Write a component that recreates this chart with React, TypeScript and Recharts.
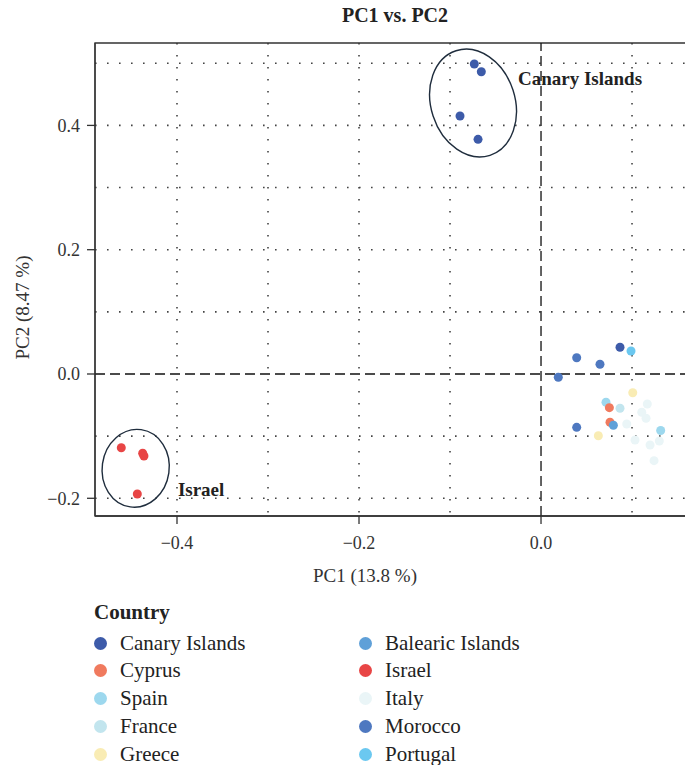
import React from 'react'
import {
  ScatterChart,
  Scatter,
  XAxis,
  YAxis,
  CartesianGrid,
  ReferenceLine,
  ReferenceArea,
  Label,
} from 'recharts'

// PCA scores (PC1, PC2)
const canaryIslands = [
  { pc1: -0.0733, pc2: 0.4988 },
  { pc1: -0.0656, pc2: 0.4864 },
  { pc1: -0.089, pc2: 0.4151 },
  { pc1: -0.0692, pc2: 0.3776 },
  { pc1: 0.0868, pc2: 0.043 },
]
const cyprus = [
  { pc1: 0.0751, pc2: -0.0542 },
  { pc1: 0.0758, pc2: -0.0777 },
]
const spain = [
  { pc1: 0.0714, pc2: -0.0455 },
  { pc1: 0.1315, pc2: -0.0909 },
]
const france = [{ pc1: 0.0868, pc2: -0.0552 }]
const greece = [
  { pc1: 0.1008, pc2: -0.0301 },
  { pc1: 0.063, pc2: -0.0993 },
]
const balearicIslands = [{ pc1: 0.0795, pc2: -0.0825 }]
const israel = [
  { pc1: -0.4612, pc2: -0.1186 },
  { pc1: -0.4377, pc2: -0.1276 },
  { pc1: -0.4363, pc2: -0.132 },
  { pc1: -0.4436, pc2: -0.1931 },
]
const italy = [
  { pc1: 0.1168, pc2: -0.0483 },
  { pc1: 0.1107, pc2: -0.0616 },
  { pc1: 0.1154, pc2: -0.0713 },
  { pc1: 0.0942, pc2: -0.0805 },
  { pc1: 0.1033, pc2: -0.1062 },
  { pc1: 0.13, pc2: -0.1078 },
  { pc1: 0.1198, pc2: -0.1142 },
  { pc1: 0.1242, pc2: -0.1395 },
]
const morocco = [
  { pc1: 0.019, pc2: -0.0053 },
  { pc1: 0.0392, pc2: 0.0262 },
  { pc1: 0.0648, pc2: 0.0156 },
  { pc1: 0.0392, pc2: -0.0858 },
]
const portugal = [{ pc1: 0.0989, pc2: 0.037 }]

const X_TICKS = [-0.4, -0.2, 0.0]
const Y_TICKS = [-0.2, 0.0, 0.2, 0.4]
const X_GRID = [-0.4, -0.3, -0.2, -0.1, 0.1]
const Y_GRID = [-0.2, -0.1, 0.1, 0.2, 0.3, 0.4, 0.5]
const X_DOMAIN = [-0.4901, 0.1692]
const Y_DOMAIN = [-0.2285, 0.5326]

// group annotations (ellipse centres and label anchors, in PC units)
const ellipseCenters = [
  { group: 'Canary Islands', pc1: -0.0747, pc2: 0.436 },
  { group: 'Israel', pc1: -0.4454, pc2: -0.1517 },
]
const groupLabels = [
  { text: 'Canary Islands', pc1: -0.0253, pc2: 0.476 },
  { text: 'Israel', pc1: -0.399, pc2: -0.1866 },
]

const ELLIPSE_SHAPE: Record<string, { rx: number; ry: number; rotate: number }> = {
  'Canary Islands': { rx: 42, ry: 55, rotate: -18 },
  Israel: { rx: 33.5, ry: 39, rotate: 8 },
}

const COLORS: Record<string, string> = {
  'Canary Islands': '#3d5ba9',
  Cyprus: '#f07a5e',
  Spain: '#9dd8ee',
  France: '#c2e5ee',
  Greece: '#f9ecb4',
  'Balearic Islands': '#5fa0d8',
  Israel: '#e84545',
  Italy: '#eaf5f7',
  Morocco: '#4e78c0',
  Portugal: '#6bc8f0',
}

const LEGEND_ORDER = [
  'Canary Islands',
  'Cyprus',
  'Spain',
  'France',
  'Greece',
  'Balearic Islands',
  'Israel',
  'Italy',
  'Morocco',
  'Portugal',
]

// drawing order, bottom to top
const SERIES: { name: string; data: { pc1: number; pc2: number }[] }[] = [
  { name: 'Italy', data: italy },
  { name: 'France', data: france },
  { name: 'Spain', data: spain },
  { name: 'Greece', data: greece },
  { name: 'Cyprus', data: cyprus },
  { name: 'Balearic Islands', data: balearicIslands },
  { name: 'Morocco', data: morocco },
  { name: 'Portugal', data: portugal },
  { name: 'Canary Islands', data: canaryIslands },
  { name: 'Israel', data: israel },
]

const FONT = '"Liberation Serif", "Times New Roman", serif'
const INK = '#222'

const fmt = (v: number) => (v < 0 ? '\u2212' : '') + Math.abs(v).toFixed(1)

export default function App() {
  return (
    <div
      style={{
        position: 'absolute',
        left: 0,
        top: 0,
        width: 685,
        height: 765,
        overflow: 'hidden',
        background: '#fff',
        fontFamily: FONT,
        color: INK,
      }}
    >
      <div
        style={{
          position: 'absolute',
          left: 0,
          top: 4,
          width: 790,
          textAlign: 'center',
          fontSize: 20,
          fontWeight: 'bold',
        }}
      >
        PC1 vs. PC2
      </div>
      <div style={{ position: 'absolute', left: 0, top: 0 }}>
        <ScatterChart width={720} height={600} margin={{ top: 43, right: 25, bottom: 14, left: 0 }}>
          <CartesianGrid
            horizontalValues={Y_GRID}
            verticalValues={X_GRID}
            stroke="#444"
            strokeWidth={1.6}
            strokeDasharray="1.6 10.4"
          />
          <XAxis
            type="number"
            dataKey="pc1"
            domain={X_DOMAIN}
            ticks={X_TICKS}
            allowDataOverflow
            tickFormatter={fmt}
            tickSize={8}
            tickMargin={12}
            height={70}
            axisLine={{ stroke: '#333', strokeWidth: 1.3 }}
            tickLine={{ stroke: '#333', strokeWidth: 1.3 }}
            tick={{ fill: '#333', fontSize: 18, fontFamily: FONT }}
          >
            <Label
              content={(p: any) => {
                const vb = p.viewBox
                return (
                  <text
                    x={vb.x + vb.width / 2 - 30}
                    y={vb.y + 59}
                    textAnchor="middle"
                    dominantBaseline="central"
                    fontSize={19}
                    fontFamily={FONT}
                    fill="#333"
                  >
                    PC1 (13.8 %)
                  </text>
                )
              }}
            />
          </XAxis>
          <YAxis
            type="number"
            dataKey="pc2"
            domain={Y_DOMAIN}
            ticks={Y_TICKS}
            allowDataOverflow
            tickFormatter={fmt}
            tickSize={8}
            tickMargin={7}
            width={95}
            axisLine={{ stroke: '#333', strokeWidth: 1.3 }}
            tickLine={{ stroke: '#333', strokeWidth: 1.3 }}
            tick={{ fill: '#333', fontSize: 18, fontFamily: FONT }}
          >
            <Label
              content={(p: any) => {
                const vb = p.viewBox
                const cx = vb.x + 22
                const cy = vb.y + vb.height / 2 + 28
                return (
                  <text
                    x={cx}
                    y={cy}
                    transform={`rotate(-90, ${cx}, ${cy})`}
                    textAnchor="middle"
                    dominantBaseline="central"
                    fontSize={19}
                    fontFamily={FONT}
                    fill="#333"
                  >
                    PC2 (8.47 %)
                  </text>
                )
              }}
            />
          </YAxis>
          <ReferenceArea
            x1={X_DOMAIN[0]}
            x2={X_DOMAIN[1]}
            y1={Y_DOMAIN[0]}
            y2={Y_DOMAIN[1]}
            fill="none"
            stroke="#333"
            strokeWidth={1.3}
            ifOverflow="visible"
          />
          <ReferenceLine x={0} stroke="#111" strokeWidth={1.3} strokeDasharray="10 5" />
          <ReferenceLine y={0} stroke="#111" strokeWidth={1.3} strokeDasharray="10 5" />
          {SERIES.map((s) => (
            <Scatter
              key={s.name}
              name={s.name}
              data={s.data}
              isAnimationActive={false}
              shape={(p: any) => <circle cx={p.cx} cy={p.cy} r={4.5} fill={COLORS[s.name]} />}
            />
          ))}
          <Scatter
            name="ellipses"
            data={ellipseCenters}
            isAnimationActive={false}
            shape={(p: any) => {
              const e = ELLIPSE_SHAPE[p.payload.group]
              return (
                <ellipse
                  cx={p.cx}
                  cy={p.cy}
                  rx={e.rx}
                  ry={e.ry}
                  transform={`rotate(${e.rotate}, ${p.cx}, ${p.cy})`}
                  fill="none"
                  stroke="#1f2d3d"
                  strokeWidth={1.4}
                />
              )
            }}
          />
          <Scatter
            name="labels"
            data={groupLabels}
            isAnimationActive={false}
            shape={(p: any) => (
              <text
                x={p.cx}
                y={p.cy}
                dominantBaseline="central"
                fontSize={19}
                fontWeight="bold"
                fontFamily={FONT}
                fill={INK}
              >
                {p.payload.text}
              </text>
            )}
          />
        </ScatterChart>
      </div>
      <div style={{ position: 'absolute', left: 94, top: 600, fontSize: 21, fontWeight: 'bold' }}>Country</div>
      {LEGEND_ORDER.map((name, i) => {
        const col = Math.floor(i / 5)
        const row = i % 5
        return (
          <div
            key={name}
            style={{
              position: 'absolute',
              left: col === 0 ? 94 : 359,
              top: 643 + row * 27.75 - 14,
              height: 28,
              display: 'flex',
              alignItems: 'center',
              fontSize: 21,
            }}
          >
            <span
              style={{
                display: 'inline-block',
                width: 13,
                height: 13,
                borderRadius: '50%',
                background: COLORS[name],
                marginRight: 13,
              }}
            />
            {name}
          </div>
        )
      })}
    </div>
  )
}
